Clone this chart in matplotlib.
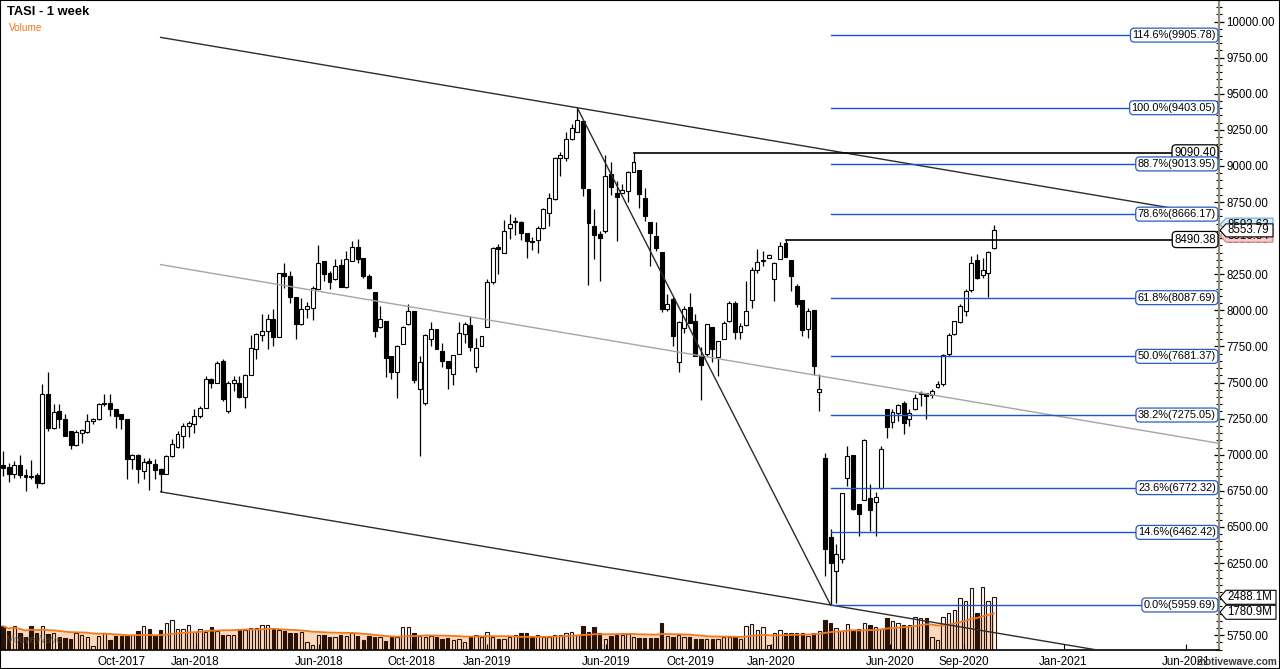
import numpy as np
import pandas as pd
import matplotlib
matplotlib.use('Agg')
import matplotlib.pyplot as plt
from matplotlib.patches import Polygon, Rectangle
from matplotlib.transforms import IdentityTransform, blended_transform_factory

plt.rcParams['font.family'] = ['Liberation Sans', 'DejaVu Sans']

# weekly OHLC (one entry per bar)
opens = [6930, 6916, 6870, 6927, 6863, 6850, 6858, 6807, 7419, 7188,
         7304, 7246, 7165, 7068, 7153, 7160, 7234, 7246, 7350, 7361,
         7315, 7280, 7246, 6969, 6997, 6888, 6957, 6939, 6900, 6865,
         6992, 7054, 7130, 7200, 7211, 7269, 7327, 7523, 7500, 7650,
         7304, 7498, 7500, 7400, 7551, 7731, 7830, 7858, 7943, 7812,
         8262, 8239, 8094, 7904, 8008, 8015, 8147, 8343, 8262, 8216,
         8315, 8163, 8343, 8440, 8361, 8239, 8128, 7888, 7927, 7685,
         7576, 7770, 7904, 7992, 7454, 7355, 7800, 7874, 7720, 7650,
         7562, 7701, 7835, 7897, 7609, 7754, 7886, 8193, 8436, 8396,
         8567, 8610, 8613, 8539, 8482, 8488, 8569, 8673, 8770, 9057,
         9054, 9186, 9237, 9313, 8840, 8586, 8528, 8551, 8943, 8816,
         8816, 8828, 8959, 8973, 8777, 8609, 8512, 8401, 8008, 8077,
         7639, 7881, 8020, 7927, 7685, 7697, 7888, 7674, 7805, 7927,
         8054, 7847, 7897, 8070, 8278, 8340, 8361, 8216, 8354, 8463,
         8348, 8170, 8070, 7870, 8001, 7438, 6976, 6431, 6196, 6276,
         6842, 6997, 6657, 6685, 6704, 6676, 6773, 7320, 7230, 7292,
         7361, 7246, 7315, 7419, 7426, 7415, 7470, 7489, 7696, 7835,
         7916, 7997, 8140, 8348, 8246, 8262, 8430]
highs = [7027, 6946, 6957, 6997, 6904, 6964, 6876, 7488, 7574, 7350,
         7350, 7280, 7165, 7170, 7177, 7280, 7257, 7361, 7419, 7419,
         7315, 7285, 7246, 7004, 7004, 6980, 6980, 6969, 6911, 6997,
         7107, 7165, 7223, 7234, 7315, 7338, 7546, 7534, 7650, 7660,
         7511, 7546, 7546, 7560, 7828, 7846, 7973, 7973, 8008, 8262,
         8331, 8269, 8094, 8084, 8061, 8170, 8454, 8343, 8274, 8354,
         8354, 8412, 8477, 8493, 8361, 8251, 8128, 8031, 7927, 7685,
         7761, 7893, 8047, 7992, 7685, 7835, 7916, 7874, 7777, 7650,
         7689, 7916, 7916, 7962, 7807, 7823, 8216, 8440, 8458, 8627,
         8666, 8643, 8620, 8539, 8505, 8581, 8712, 8812, 9059, 9093,
         9232, 9290, 9403.05, 9320, 8840, 8701, 8551, 9075, 9024, 8897,
         8874, 8966, 9090.40, 8973, 8846, 8609, 8613, 8401, 8112, 8089,
         7927, 8031, 8119, 7974, 7743, 7904, 7888, 7789, 7927, 8066,
         8066, 7911, 8204, 8297, 8424, 8412, 8389, 8338, 8470, 8490.38,
         8348, 8181, 8070, 8015, 8001, 7558, 7015, 6484, 6385, 6738,
         7061, 6997, 6657, 7108, 6796, 6745, 7061, 7320, 7315, 7350,
         7373, 7315, 7424, 7442, 7431, 7454, 7512, 7696, 7846, 7927,
         8043, 8147, 8378, 8389, 8361, 8412, 8593.63]
lows = [6853, 6814, 6837, 6837, 6750, 6830, 6773, 6800, 7165, 7177,
        7188, 7130, 7038, 7061, 7084, 7153, 7211, 7239, 7338, 7269,
        7188, 7177, 6830, 6900, 6807, 6830, 6754, 6830, 6743, 6865,
        6987, 7045, 7045, 7124, 7153, 7257, 7327, 7465, 7500, 7373,
        7292, 7442, 7396, 7327, 7551, 7662, 7789, 7731, 7754, 7812,
        8158, 8054, 7800, 7900, 7950, 7934, 8147, 8204, 8147, 8209,
        8163, 8158, 8343, 8331, 8223, 8147, 7812, 7880, 7535, 7523,
        7396, 7766, 7900, 7500, 6992, 7345, 7754, 7731, 7611, 7454,
        7484, 7696, 7777, 7715, 7576, 7750, 7886, 8181, 8251, 8396,
        8493, 8521, 8489, 8362, 8420, 8396, 8562, 8581, 8766, 8932,
        9031, 9179, 9232, 8793, 8174, 8355, 8205, 8535, 8798, 8482,
        8816, 8752, 8959, 8712, 8620, 8304, 8412, 7990, 7997, 7754,
        7574, 7842, 7909, 7685, 7380, 7685, 7639, 7547, 7805, 7916,
        7800, 7805, 7893, 8015, 8262, 8308, 8361, 8066, 8354, 8371,
        8135, 8024, 7823, 7807, 7553, 7304, 6161, 5959.69, 5975, 6253,
        6785, 6616, 6438, 6685, 6473, 6438, 6766, 7114, 7184, 7235,
        7142, 7200, 7308, 7338, 7246, 7396, 7465, 7477, 7685, 7830,
        7909, 7962, 8124, 8216, 8227, 8090, 8424]
closes = [6911, 6870, 6927, 6860, 6846, 6846, 6807, 7419, 7188, 7299,
          7246, 7130, 7068, 7158, 7170, 7234, 7246, 7350, 7361, 7315,
          7269, 7246, 6969, 6997, 6900, 6950, 6946, 6897, 6865, 6992,
          7073, 7142, 7200, 7223, 7269, 7327, 7523, 7500, 7638, 7385,
          7500, 7516, 7400, 7551, 7736, 7835, 7858, 7943, 7812, 8262,
          8239, 8089, 7904, 8008, 8027, 8154, 8331, 8251, 8193, 8304,
          8163, 8354, 8440, 8354, 8239, 8158, 7858, 7939, 7673, 7576,
          7754, 7886, 7992, 7516, 7639, 7828, 7870, 7731, 7650, 7600,
          7689, 7840, 7904, 7743, 7738, 7823, 8193, 8435, 8424, 8551,
          8597, 8620, 8535, 8482, 8470, 8569, 8701, 8777, 9052, 9075,
          9186, 9262, 9320, 8844, 8604, 8521, 8498, 8932, 8851, 8782,
          8832, 8955, 9024, 8805, 8650, 8535, 8429, 8008, 8043, 7819,
          7916, 8008, 7909, 7685, 7620, 7904, 7731, 7789, 7911, 8054,
          7847, 7893, 7997, 8278, 8338, 8346, 8384, 8331, 8447, 8371,
          8239, 8043, 7863, 7997, 7616, 7454, 6346, 6253, 6316, 6738,
          6992, 6623, 6593, 7101, 6616, 6708, 7038, 7193, 7297, 7343,
          7218, 7292, 7396, 7422, 7408, 7442, 7489, 7692, 7830, 7923,
          8031, 8131, 8331, 8223, 8278, 8401, 8553.79]
# weekly volume, millions
volume = [1130, 910, 1130, 815, 630, 1130, 815, 1130, 750, 815, 630,
          550, 500, 785, 705, 630, 190, 660, 785, 470, 660,
          660, 660, 705, 880, 1130, 975, 705, 940, 1255, 1410,
          1005, 1005, 1190, 865, 975, 865, 1100, 910, 720, 720,
          720, 940, 940, 1035, 1035, 1160, 1190, 1005, 940, 910,
          785, 785, 850, 390, 235, 720, 720, 630, 600, 690,
          660, 815, 660, 470, 660, 600, 630, 440, 630, 630,
          1070, 1070, 815, 660, 630, 660, 600, 535, 565, 470,
          500, 375, 630, 690, 630, 850, 630, 535, 535, 600,
          690, 785, 815, 630, 720, 630, 630, 720, 690, 785,
          850, 705, 1130, 850, 1100, 815, 535, 660, 690, 720, 750, 630,
          550, 550, 550, 550,
          1255, 660, 600, 690, 630, 600, 535, 535, 535, 535,
          535, 600, 600, 600, 535, 1130, 1225, 940, 1070, 220,
          815, 940, 815, 815, 785, 785, 660, 785, 880, 1410,
          1290, 1035, 910, 1225, 940, 975, 1255, 1160, 1100, 1005,
          1510, 1380, 1255, 1160, 1190, 1570, 1510, 1510, 630, 470,
          1560, 1750, 1890, 2450, 2330, 2930, 1750, 2990, 2310, 2488.1]
assert len(opens) == len(highs) == len(lows) == len(closes) == len(volume)

price_ticks = np.arange(5750, 10001, 250)
month_labels = ['Oct-2017', 'Jan-2018', 'Jun-2018', 'Oct-2018', 'Jan-2019', 'Jun-2019',
                'Oct-2019', 'Jan-2020', 'Jun-2020', 'Sep-2020', 'Jan-2021', 'Jun-2021']
month_bar = [21.1, 34.2, 56.1, 72.6, 86.0, 107.1, 122.1, 136.4, 157.5, 170.7, 188.4, 210.2]

fib_ratios = [0.0, 0.146, 0.236, 0.382, 0.5, 0.618, 0.786, 0.887, 1.0, 1.146]
swing_high, swing_low, channel_start = 102, 147, 28
ref_highs = [112, 139]
last_tags = [8593.63, 8516.84, 8553.79]
vol_ma_last = 1780.9

o = np.array(opens, float)
h = np.array(highs, float)
l = np.array(lows, float)
c = np.array(closes, float)
v = np.array(volume, float)
x = np.arange(len(c))
up = c >= o

W, H = 1280, 669
fig = plt.figure(figsize=(W / 100, H / 100), dpi=100)
ax = fig.add_axes([0, 19 / H, 1219 / W, 650 / H])
vax = ax.twinx()
ax.set_zorder(vax.get_zorder() + 1)
ax.patch.set_visible(False)

# volume panel
vma = pd.Series(v).rolling(20, min_periods=1).mean()
vax.fill_between(x, 0, vma, color='#fcd8bc', lw=0, zorder=1)
vax.bar(x[up], v[up], width=0.6, facecolor='none', edgecolor='#2a1206', lw=0.8, zorder=2)
vax.bar(x[~up], v[~up], width=0.6, color='#2a1206', edgecolor='#2a1206', lw=0.8, zorder=2)
vax.plot(x, vma, color='#f07a1e', lw=1.3, zorder=3)
vax.set_ylim(0, 650 * 47.2)
vax.yaxis.set_visible(False)
for s in vax.spines.values():
    s.set_visible(False)

# candles
ax.vlines(x, l, h, color='black', lw=0.9, zorder=3)
body_lo = np.minimum(o, c)
body_h = np.maximum(np.abs(c - o), 6)
ax.bar(x[up], body_h[up], bottom=body_lo[up], width=0.7, color='white',
       edgecolor='black', lw=0.8, zorder=4)
ax.bar(x[~up], body_h[~up], bottom=body_lo[~up], width=0.7, color='black',
       edgecolor='black', lw=0.8, zorder=4)

ax.set_xlim(-0.53, 216.0)
ax.set_ylim(5648, 10149)

# channel from the 2017 low, the 2019 high and the 2020 low
slope = (l[swing_low] - l[channel_start]) / (swing_low - channel_start)
xl = np.array([channel_start, 216.0])
lower = l[channel_start] + slope * (xl - channel_start)
upper = h[swing_high] + slope * (xl - swing_high)
ax.plot(xl, upper, color='#2b2b2b', lw=1, zorder=5)
ax.plot(xl, lower, color='#2b2b2b', lw=1, zorder=5)
ax.plot(xl, (upper + lower) / 2, color='#a5a5a5', lw=1, zorder=5)
ax.plot([swing_high, swing_low], [h[swing_high], l[swing_low]], color='#2b2b2b', lw=1, zorder=5)

lab_tr = blended_transform_factory(ax.transAxes, ax.transData)
for i in ref_highs:
    ax.plot([i, 212], [h[i], h[i]], color='black', lw=1.2, zorder=5)
    ax.text(0.9975, h[i], f'{h[i]:.2f}', transform=lab_tr, ha='right', va='center',
            fontsize=8.3, zorder=8,
            bbox=dict(boxstyle='round,pad=0.18,rounding_size=0.35', fc='white', ec='black', lw=0.9))

rng = h[swing_high] - l[swing_low]
for r in fib_ratios:
    lev = l[swing_low] + r * rng
    ax.plot([swing_low, 212], [lev, lev], color='#1d55c4', lw=1, zorder=5)
    ax.text(0.9975, lev, f'{r * 100:.1f}%({lev:.2f})', transform=lab_tr, ha='right',
            va='center', fontsize=7.9, zorder=9,
            bbox=dict(boxstyle='round,pad=0.18,rounding_size=0.35', fc='white', ec='#2a5cc0', lw=0.9))

# axes styling
ax.yaxis.tick_right()
ax.set_yticks(price_ticks)
ax.set_yticklabels([f'{p:.2f}' for p in price_ticks])
ax.yaxis.set_minor_locator(plt.MultipleLocator(50))
ax.tick_params(axis='y', which='major', direction='inout', length=7, width=0.9,
               labelsize=8.3, pad=2)
ax.tick_params(axis='y', which='minor', direction='inout', length=4, width=0.8)
ax.set_xticks(month_bar)
ax.set_xticklabels(month_labels)
ax.tick_params(axis='x', direction='in', length=4, labelsize=8.4, pad=4)
for side in ['left', 'top', 'bottom']:
    ax.spines[side].set_color('black')
    ax.spines[side].set_linewidth(1.2)
ax.spines['right'].set_color('#8f8f78')
ax.spines['right'].set_linewidth(1.6)

fig.text(7 / W, 1 - 12 / H, 'TASI - 1 week', fontsize=9.3, fontweight='bold', va='center')
fig.text(9 / W, 1 - 28 / H, 'Volume', fontsize=7.2, color='#e8761c', va='center')
fig.text(5 / W, 1 - 640 / H, 'MotiveWave', fontsize=7.5, color='#555555', alpha=0.6, va='center')
fig.text(1277 / W, 1 - 662 / H, 'motivewave.com', fontsize=7.3, fontweight='bold',
         color='#3a3a3a', ha='right', va='center', zorder=20)
fig.add_artist(Rectangle((0, 0), 1, 1, transform=fig.transFigure, fill=False,
                         ec='black', lw=1.5, zorder=30))


def tag(yd, text, fc, ec, z, right=1273, hh=13):
    x0 = 1220
    pts = [(x0, yd), (x0 + 6, yd + hh / 2), (right, yd + hh / 2),
           (right, yd - hh / 2), (x0 + 6, yd - hh / 2)]
    fig.add_artist(Polygon(pts, closed=True, fc=fc, ec=ec, lw=0.8,
                           transform=IdentityTransform(), zorder=z))
    fig.text((x0 + 7) / W, yd / H, text, fontsize=8.3, ha='left', va='center', zorder=z + 0.5)


py = lambda val: ax.transData.transform((0, val))[1]
vy = lambda val: vax.transData.transform((0, val))[1]
tag(py(last_tags[0]), f'{last_tags[0]:.2f}', '#d4ecf8', '#6fa8d0', 10)
tag(py(last_tags[1]), f'{last_tags[1]:.2f}', '#f8c8c8', '#d08080', 11)
tag(py(last_tags[2]), f'{last_tags[2]:.2f}', 'white', 'black', 12)
tag(vy(v[-1]), f'{v[-1]:.1f}M', 'white', 'black', 13, right=1276, hh=14)
tag(vy(vol_ma_last), f'{vol_ma_last:.1f}M', 'white', 'black', 14, right=1276, hh=14)

fig.savefig('out.png', dpi=100)
